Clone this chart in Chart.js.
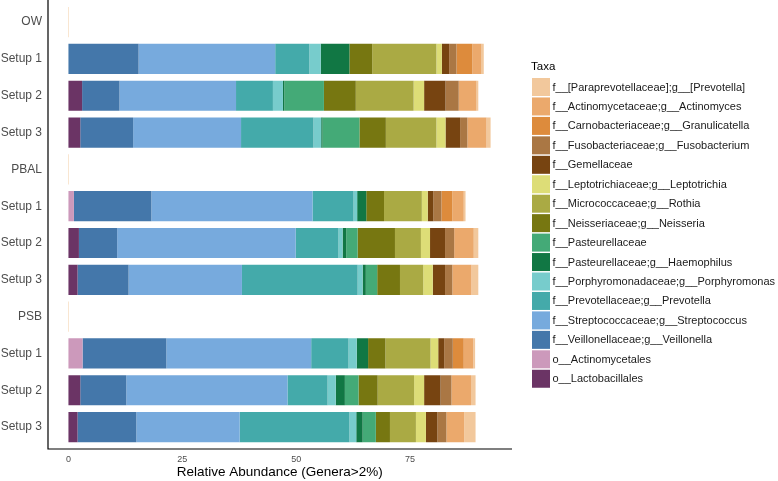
<!DOCTYPE html>
<html>
<head>
<meta charset="utf-8">
<script src="https://cdn.jsdelivr.net/npm/chart.js@4.4.1/dist/chart.umd.min.js"></script>
<style>
  html, body { margin: 0; padding: 0; background: #fff; }
</style>
</head>
<body>
<canvas id="Chart" width="778" height="481"></canvas>
<script>
// rows top to bottom
let rows = ['OW', 'Setup 1', 'Setup 2', 'Setup 3', 'PBAL', 'Setup 1', 'Setup 2', 'Setup 3', 'PSB', 'Setup 1', 'Setup 2', 'Setup 3'];
let xTicks = [0, 25, 50, 75];

// one array per taxon, stacked left to right
let lactobacillales = [0, 0, 3.0, 2.6, 0, 0, 2.3, 2.0, 0, 0, 2.6, 2.0];
let actinomycetales = [0, 0, 0, 0, 0, 1.2, 0, 0, 0, 3.1, 0, 0];
let veillonella     = [0, 15.4, 8.2, 11.6, 0, 17.0, 8.4, 11.2, 0, 18.4, 10.1, 12.9];
let streptococcus   = [0, 30.0, 25.6, 23.7, 0, 35.4, 39.2, 24.9, 0, 31.8, 35.4, 22.7];
let prevotella      = [0, 7.5, 8.1, 15.9, 0, 9.0, 9.4, 25.4, 0, 8.2, 8.8, 24.1];
let porphyromonas   = [0, 2.5, 2.2, 1.7, 0, 0.8, 0.9, 1.1, 0, 1.8, 1.8, 1.5];
let haemophilus     = [0, 6.3, 0.3, 0.3, 0, 2.0, 0.8, 0.7, 0, 2.5, 2.0, 1.4];
let pasteurellaceae = [0, 0, 8.7, 8.1, 0, 0, 2.5, 2.5, 0, 0, 3.0, 2.9];
let neisseria       = [0, 5.0, 7.0, 5.8, 0, 3.9, 8.2, 5.0, 0, 3.8, 4.2, 3.1];
let rothia          = [0, 14.1, 12.7, 11.1, 0, 8.3, 5.7, 5.1, 0, 9.9, 8.0, 5.7];
let leptotrichia    = [0, 1.2, 2.3, 2.0, 0, 1.3, 2.0, 2.1, 0, 1.7, 2.2, 2.2];
let gemellaceae     = [0, 1.6, 4.7, 3.2, 0, 1.2, 3.3, 2.7, 0, 1.3, 3.6, 2.5];
let fusobacterium   = [0, 1.6, 2.9, 1.6, 0, 1.8, 2.0, 1.6, 0, 1.9, 2.4, 2.0];
let granulicatella  = [0, 3.5, 0, 0, 0, 2.4, 0, 0, 0, 2.4, 0, 0];
let actinomyces     = [0, 2.0, 3.9, 4.2, 0, 2.5, 4.3, 4.2, 0, 2.1, 4.3, 3.9];
let paraprevotella  = [0.1, 0.5, 0.4, 0.9, 0.1, 0.4, 1.0, 1.5, 0.1, 0.4, 1.0, 2.5];

let taxa = [
    ['o__Lactobacillales', lactobacillales, '#6B3465'],
    ['o__Actinomycetales', actinomycetales, '#CC99BB'],
    ['f__Veillonellaceae;g__Veillonella', veillonella, '#4477AA'],
    ['f__Streptococcaceae;g__Streptococcus', streptococcus, '#77AADD'],
    ['f__Prevotellaceae;g__Prevotella', prevotella, '#44AAAA'],
    ['f__Porphyromonadaceae;g__Porphyromonas', porphyromonas, '#77CCCC'],
    ['f__Pasteurellaceae;g__Haemophilus', haemophilus, '#117744'],
    ['f__Pasteurellaceae', pasteurellaceae, '#44AA77'],
    ['f__Neisseriaceae;g__Neisseria', neisseria, '#777711'],
    ['f__Micrococcaceae;g__Rothia', rothia, '#AAAA44'],
    ['f__Leptotrichiaceae;g__Leptotrichia', leptotrichia, '#DDDD77'],
    ['f__Gemellaceae', gemellaceae, '#774411'],
    ['f__Fusobacteriaceae;g__Fusobacterium', fusobacterium, '#AA7744'],
    ['f__Carnobacteriaceae;g__Granulicatella', granulicatella, '#DD8B3C'],
    ['f__Actinomycetaceae;g__Actinomyces', actinomyces, '#EBA96C'],
    ['f__[Paraprevotellaceae];g__[Prevotella]', paraprevotella, '#F2C89C'],
];

let font = 'Liberation Sans, Arial, Helvetica, sans-serif';

// axis lines (L shape) + the legend on the right
let frame = {
    id: 'frame',
    afterDraw(chart) {
        let ctx = chart.ctx;
        let area = chart.chartArea;
        ctx.save();
        ctx.strokeStyle = '#000';
        ctx.lineWidth = 1.2;
        ctx.beginPath();
        ctx.moveTo(area.left + 0.5, 0);
        ctx.lineTo(area.left + 0.5, area.bottom + 3.5);
        ctx.lineTo(area.right, area.bottom + 3.5);
        ctx.stroke();

        ctx.textBaseline = 'middle';
        ctx.textAlign = 'left';
        ctx.fillStyle = '#000';
        ctx.font = '11.5px ' + font;
        ctx.fillText('Taxa', 531, 67);
        ctx.font = '11px ' + font;
        let items = chart.data.datasets.slice().reverse();
        items.forEach((ds, i) => {
            let y = 78 + i * 19.45;
            ctx.fillStyle = ds.backgroundColor;
            ctx.fillRect(532, y, 18, 18);
            ctx.fillStyle = '#1a1a1a';
            ctx.fillText(ds.label, 552.5, y + 9.5);
        });
        ctx.restore();
    }
};

let chartdtl = {
    type: 'bar',
    data: {
        labels: rows,
        datasets: taxa.map(t => ({
            label: t[0],
            data: t[1],
            backgroundColor: t[2],
            borderWidth: 0,
            barPercentage: 0.82,
            categoryPercentage: 1,
        })),
    },
    options: {
        indexAxis: 'y',
        responsive: false,
        animation: false,
        layout: { padding: { top: 3.7, right: 266, left: 0, bottom: 0 } },
        plugins: {
            legend: { display: false },
            tooltip: { enabled: false },
        },
        scales: {
            x: {
                stacked: true,
                min: -4.6,
                max: 97.4,
                afterBuildTicks: (scale) => { scale.ticks = xTicks.map(v => ({ value: v })); },
                afterFit: (scale) => { scale.paddingLeft = 0; scale.paddingRight = 0; scale.height = 35.5; },
                grid: { display: false, drawTicks: false },
                border: { display: false },
                ticks: { color: '#4d4d4d', font: { family: font, size: 9 }, padding: 8.5, maxRotation: 0 },
                title: {
                    display: true,
                    text: 'Relative Abundance (Genera>2%)',
                    color: '#000',
                    font: { family: font, size: 13.5 },
                    padding: { top: 0, bottom: 0.5 },
                },
            },
            y: {
                stacked: true,
                afterFit: (scale) => { scale.paddingTop = 0; scale.paddingBottom = 0; scale.width = 47.5; },
                grid: { display: false, drawTicks: false },
                border: { display: false },
                ticks: { color: '#4d4d4d', font: { family: font, size: 12 }, padding: 5.5 },
            },
        },
    },
    plugins: [frame],
};

let graph = document.getElementById('Chart');
let presentdata = new Chart(graph, chartdtl);
</script>
</body>
</html>
